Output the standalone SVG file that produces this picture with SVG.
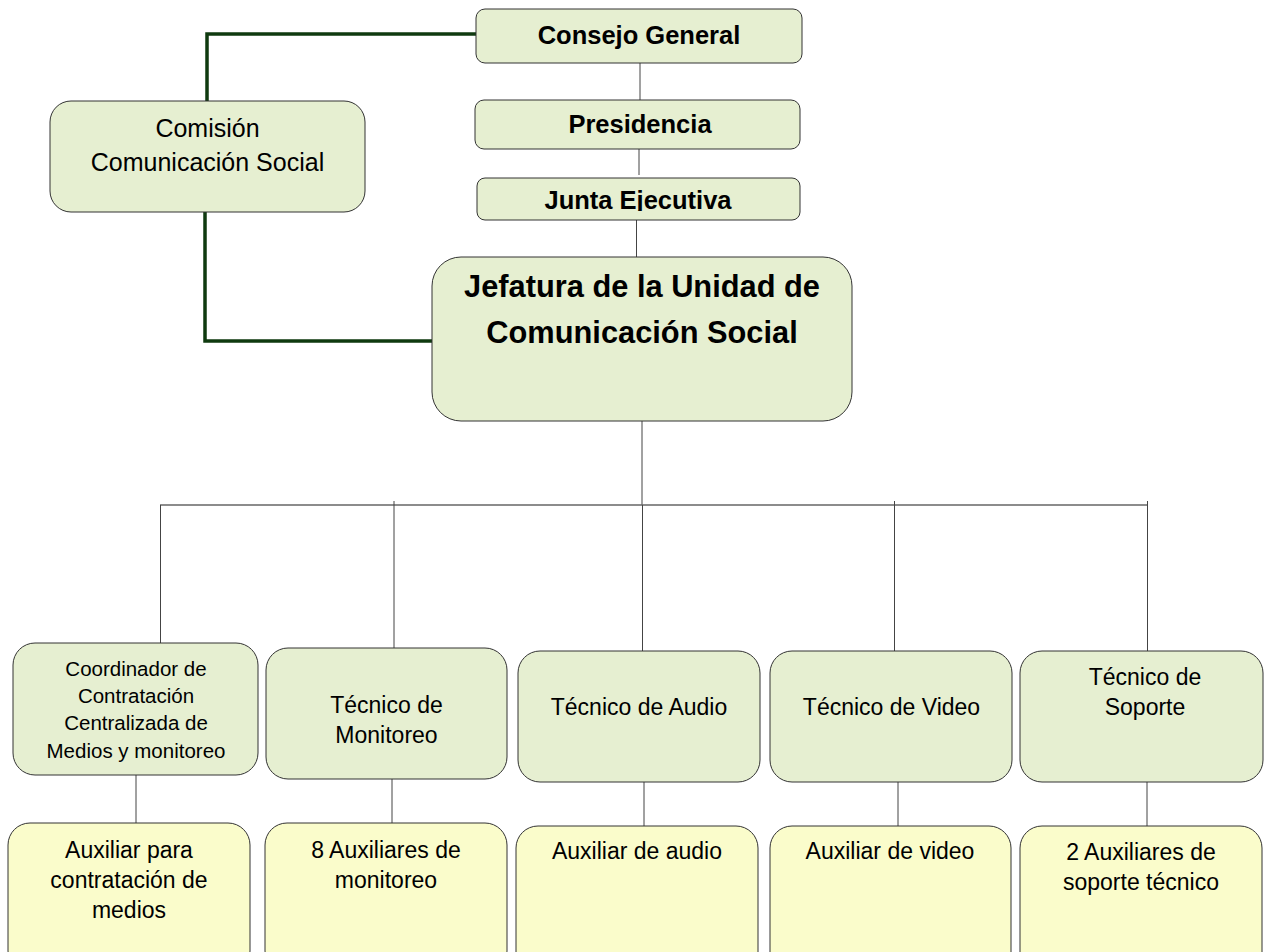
<svg xmlns="http://www.w3.org/2000/svg" width="1266" height="952" viewBox="0 0 1266 952">
<style>
.g{fill:#e6efd1;stroke:#333;stroke-width:1}
.y{fill:#fafccb;stroke:#333;stroke-width:1}
.t{font-family:"Liberation Sans",Arial,sans-serif;fill:#000;text-anchor:middle}
.b{font-weight:bold}
.c{stroke:#444;stroke-width:1;fill:none}
.k{stroke:#0f3a0f;stroke-width:3.5;fill:none}
</style>
<defs>
<clipPath id="cj"><rect x="477" y="178" width="323" height="33"/></clipPath>
</defs>
<g id="connectors">
<polyline class="k" points="476,34 207,34 207,101"/>
<polyline class="k" points="205,211 205,341 432,341"/>
<line class="c" x1="640" y1="63" x2="640" y2="100"/>
<line class="c" x1="639" y1="144" x2="639" y2="175"/>
<line class="c" x1="636.5" y1="217" x2="636.5" y2="257"/>
<line class="c" x1="642" y1="421" x2="642" y2="505"/>
<line x1="160" y1="505" x2="1148" y2="505" stroke="#666" stroke-width="1.6"/>
<line class="c" x1="160.5" y1="505" x2="160.5" y2="643" stroke="#888"/>
<line class="c" x1="394" y1="501" x2="394" y2="648"/>
<line class="c" x1="642.5" y1="505" x2="642.5" y2="651"/>
<line class="c" x1="894.5" y1="501" x2="894.5" y2="651"/>
<line class="c" x1="1147.5" y1="501" x2="1147.5" y2="651"/>
<line class="c" x1="136" y1="775" x2="136" y2="823"/>
<line class="c" x1="392" y1="779" x2="392" y2="823"/>
<line class="c" x1="644" y1="782" x2="644" y2="826"/>
<line class="c" x1="898" y1="782" x2="898" y2="826"/>
<line class="c" x1="1147" y1="782" x2="1147" y2="826"/>
</g>
<g id="consejo">
<rect class="g" x="476" y="9" width="326" height="54" rx="9"/>
<text class="t b" x="639" y="44" font-size="25.5">Consejo General</text>
</g>
<g id="presidencia">
<rect class="g" x="475" y="100" width="325" height="49" rx="9"/>
<text class="t b" x="640" y="133" font-size="25.5">Presidencia</text>
</g>
<g id="junta">
<rect class="g" x="477" y="178" width="323" height="42" rx="8"/>
<text class="t b" x="638" y="209" font-size="25.5" clip-path="url(#cj)">Junta Ejecutiva</text>
</g>
<g id="comision">
<rect class="g" x="50" y="101" width="315" height="111" rx="21"/>
<text class="t" x="207.5" y="137" font-size="25">Comisión</text>
<text class="t" x="207.5" y="171" font-size="25">Comunicación Social</text>
</g>
<g id="jefatura">
<rect class="g" x="432" y="257" width="420" height="164" rx="29"/>
<text class="t b" x="642" y="297" font-size="30.8">Jefatura de la Unidad de</text>
<text class="t b" x="642" y="343" font-size="30.8">Comunicación Social</text>
</g>
<g id="coordinador">
<rect class="g" x="13" y="643" width="245" height="132" rx="22"/>
<text class="t" x="136" y="676" font-size="20.5">Coordinador de</text>
<text class="t" x="136" y="703" font-size="20.5">Contratación</text>
<text class="t" x="136" y="730" font-size="20.5">Centralizada de</text>
<text class="t" x="136" y="758" font-size="20.5">Medios y monitoreo</text>
</g>
<g id="tec-monitoreo">
<rect class="g" x="266" y="648" width="241" height="131" rx="22"/>
<text class="t" x="386.5" y="713" font-size="23">Técnico de</text>
<text class="t" x="386.5" y="743" font-size="23">Monitoreo</text>
</g>
<g id="tec-audio">
<rect class="g" x="518" y="651" width="242" height="131" rx="22"/>
<text class="t" x="639" y="715" font-size="23">Técnico de Audio</text>
</g>
<g id="tec-video">
<rect class="g" x="770" y="651" width="242" height="131" rx="22"/>
<text class="t" x="891.5" y="715" font-size="23">Técnico de Video</text>
</g>
<g id="tec-soporte">
<rect class="g" x="1020" y="651" width="243" height="131" rx="22"/>
<text class="t" x="1145" y="685" font-size="23">Técnico de</text>
<text class="t" x="1145" y="715" font-size="23">Soporte</text>
</g>
<g id="aux-contratacion">
<rect class="y" x="8" y="823" width="242" height="150" rx="22"/>
<text class="t" x="129" y="858" font-size="23">Auxiliar para</text>
<text class="t" x="129" y="888" font-size="23">contratación de</text>
<text class="t" x="129" y="918" font-size="23">medios</text>
</g>
<g id="aux-monitoreo">
<rect class="y" x="265" y="823" width="242" height="150" rx="22"/>
<text class="t" x="386" y="858" font-size="23">8 Auxiliares de</text>
<text class="t" x="386" y="888" font-size="23">monitoreo</text>
</g>
<g id="aux-audio">
<rect class="y" x="516" y="826" width="242" height="150" rx="22"/>
<text class="t" x="637" y="859" font-size="23">Auxiliar de audio</text>
</g>
<g id="aux-video">
<rect class="y" x="770" y="826" width="241" height="150" rx="22"/>
<text class="t" x="890" y="859" font-size="23">Auxiliar de video</text>
</g>
<g id="aux-soporte">
<rect class="y" x="1020" y="826" width="242" height="150" rx="22"/>
<text class="t" x="1141" y="860" font-size="23">2 Auxiliares de</text>
<text class="t" x="1141" y="890" font-size="23">soporte técnico</text>
</g>
</svg>
